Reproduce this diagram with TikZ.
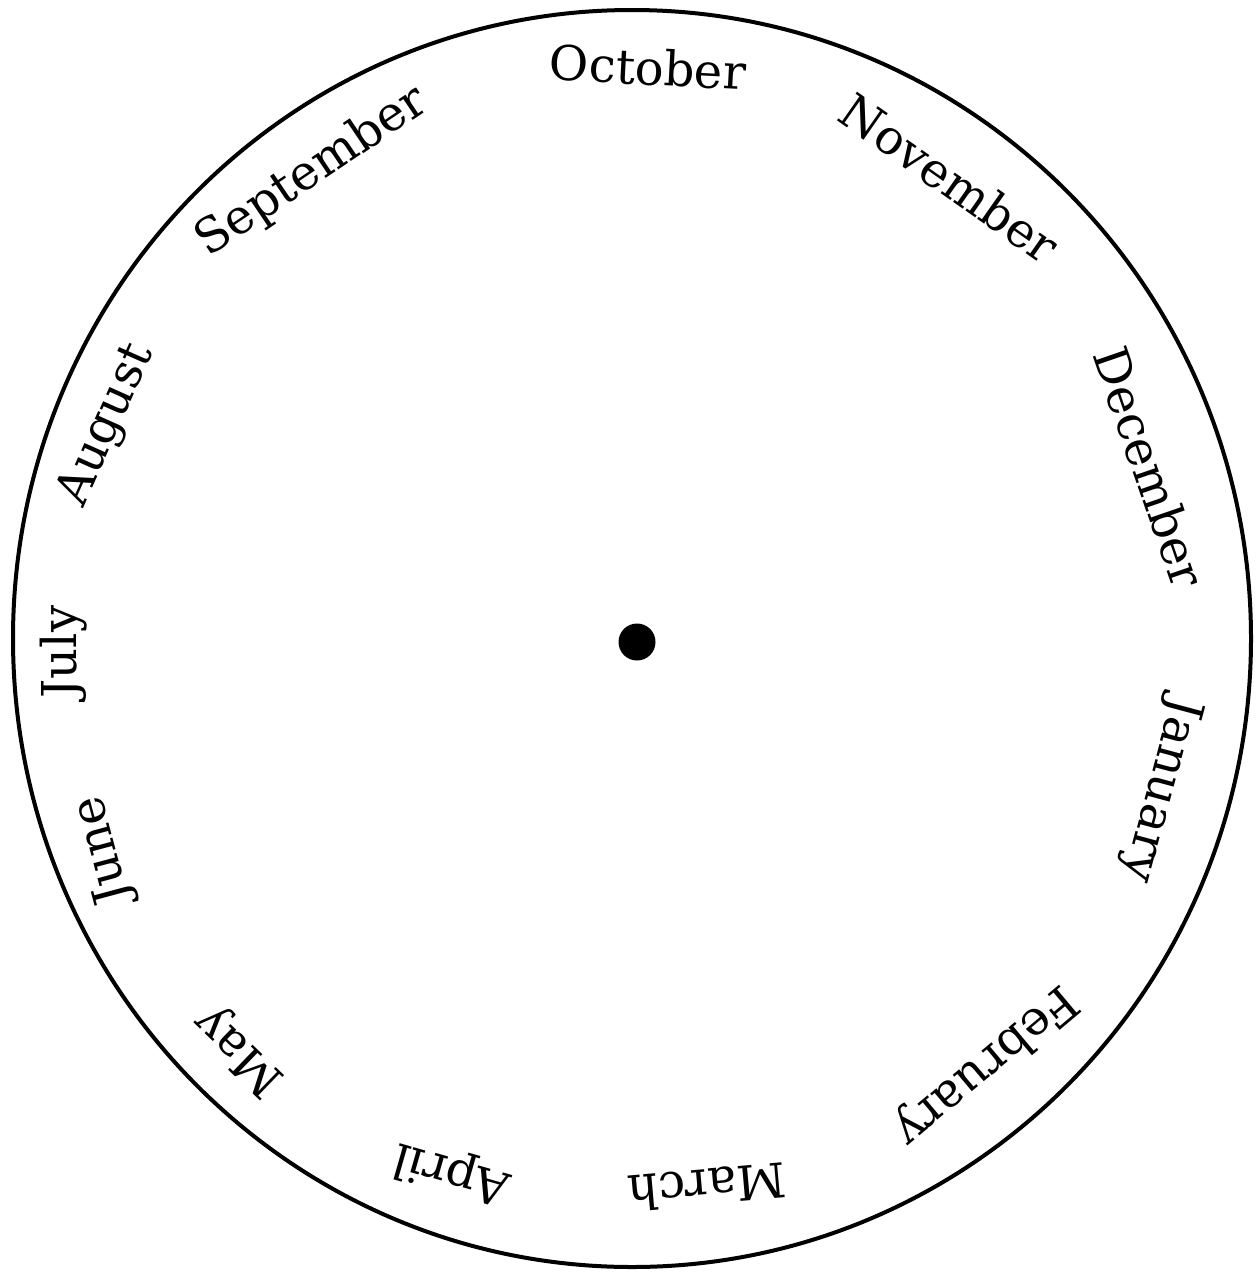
\documentclass[tikz,border=0pt]{standalone}
\usepackage{fontspec}
\setmainfont{DejaVu Serif}
\begin{document}
\begin{tikzpicture}[x=0.5pt,y=-0.5pt,
  month/.style={font=\fontsize{24pt}{28pt}\selectfont, inner sep=0pt, anchor=center},
  rim/.style={line width=2pt}]
\useasboundingbox (0,0) rectangle (1258,1274);
\draw[rim] (632,638.5) ellipse [x radius=309.5pt, y radius=314.25pt];
\node[circle, fill=black, inner sep=0pt, minimum size=18.5pt] (hub) at (637,642) {};
\node[month, rotate=-3]   (oct) at (648,67)   {October};
\node[month, rotate=-35]  (nov) at (950,178)  {November};
\node[month, rotate=-71]  (dec) at (1150,467) {December};
\node[month, rotate=-105] (jan) at (1160,790) {January};
\node[month, rotate=-140] (feb) at (985,1065) {February};
\node[month, rotate=-175] (mar) at (707,1187) {March};
\node[month, rotate=-196] (apr) at (452,1172) {April};
\node[month, rotate=-224] (may) at (240,1050) {May};
\node[month, rotate=-255] (jun) at (103,850)  {June};
\node[month, rotate=-270] (jul) at (64,652)   {July};
\node[month, rotate=66]   (aug) at (107,425)  {August};
\node[month, rotate=34]   (sep) at (312,172)  {September};
\end{tikzpicture}
\end{document}
